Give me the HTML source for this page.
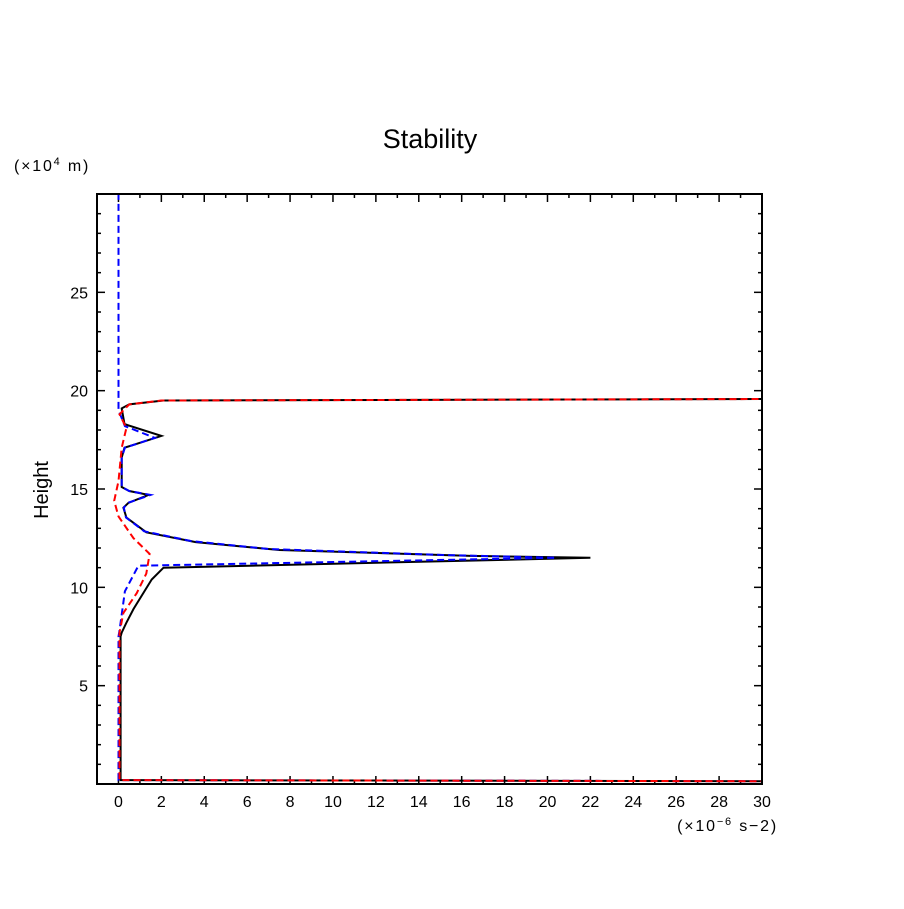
<!DOCTYPE html>
<html><head><meta charset="utf-8"><style>
body{margin:0;background:#fff;}
svg text{font-family:"Liberation Sans","DejaVu Sans",sans-serif;fill:#000;}
</style></head><body>
<svg id="chart" width="904" height="904" xmlns="http://www.w3.org/2000/svg">
<rect width="904" height="904" fill="#fff"/>
<defs><clipPath id="pc"><rect x="97" y="194" width="665" height="590"/></clipPath></defs>
<text x="430" y="148" font-size="27" text-anchor="middle">Stability</text>
<text x="14" y="171" font-size="16" letter-spacing="1.8">(×10<tspan font-size="11" dy="-6">4</tspan><tspan dy="6"> m)</tspan></text>
<text transform="translate(48,490) rotate(-90)" font-size="20" text-anchor="middle">Height</text>
<text x="778" y="831" font-size="16" letter-spacing="1.8" text-anchor="end">(×10<tspan font-size="11" dy="-6">−6</tspan><tspan dy="6"> s−2)</tspan></text>
<g id="axes"></g>
<g id="series" clip-path="url(#pc)"></g>
<rect x="97" y="194" width="665" height="590" fill="none" stroke="#000" stroke-width="2"/>
</svg>
<script>
const xTicks=[0,2,4,6,8,10,12,14,16,18,20,22,24,26,28,30];
const yTicks=[5,10,15,20,25];
const blackX=[40,0.1,0.1,0.15,0.37,0.7,1.55,2.1,22,16.4,7.5,3.6,1.3,0.37,0.23,0.47,1.4,0.5,0.15,0.15,0.28,2.0,0.28,0.15,0.5,2.1,40];
const blackY=[0.12,0.2,7.5,7.7,8.2,8.9,10.4,11.0,11.5,11.6,11.9,12.3,12.8,13.55,14.05,14.3,14.7,14.9,15.1,16.6,17.1,17.7,18.3,19.1,19.3,19.5,19.6];
const blueX=[40,0.0,0.0,0.05,0.3,0.93,20.4,15,7,3.4,1.2,0.35,0.25,0.45,1.5,0.5,0.15,0.15,0.3,1.7,0.3,0.0,0.0];
const blueY=[0.12,0.2,7.5,7.8,9.8,11.1,11.5,11.65,11.95,12.35,12.85,13.55,14.05,14.3,14.7,14.9,15.1,16.6,17.1,17.6,18.2,19.0,30];
const redX=[40,0.05,0.05,0.23,0.85,1.3,1.45,0.7,0.0,-0.2,0.0,0.15,0.37,0.05,0.5,2.0,40];
const redY=[0.12,0.2,7.7,8.7,9.7,10.7,11.7,12.5,13.6,14.4,15.4,17.1,18.1,18.8,19.3,19.5,19.6];
const X0=97,X1=762,Y0=784,Y1=194,XMIN=-1,XMAX=30,YMIN=0,YMAX=30;
const sx=v=>X0+(v-XMIN)/(XMAX-XMIN)*(X1-X0);
const sy=v=>Y0-(v-YMIN)/(YMAX-YMIN)*(Y0-Y1);
const NS="http://www.w3.org/2000/svg";
const axes=document.getElementById('axes'),ser=document.getElementById('series');
function ln(x1,y1,x2,y2,w){const l=document.createElementNS(NS,'line');l.setAttribute('x1',x1);l.setAttribute('y1',y1);l.setAttribute('x2',x2);l.setAttribute('y2',y2);l.setAttribute('stroke','#000');l.setAttribute('stroke-width',w);axes.appendChild(l);return l;}
for(let v=0;v<=30;v++){const x=sx(v);const L=(v%2===0)?8:4;
 const a=ln(x,Y0,x,Y0-L,1.5);


 const b=ln(x,Y1,x,Y1+L,1.5);

}
for(let v=1;v<30;v++){const y=sy(v);const L=(v%5===0)?8:4;
 const a=ln(X0,y,X0+L,y,1.5);


 const b=ln(X1,y,X1-L,y,1.5);

}
xTicks.forEach(v=>{const t=document.createElementNS(NS,'text');t.setAttribute('x',sx(v));t.setAttribute('y',807);t.setAttribute('font-size','16');t.setAttribute('text-anchor','middle');t.textContent=v;


axes.appendChild(t);});
yTicks.forEach(v=>{const t=document.createElementNS(NS,'text');t.setAttribute('x',88);t.setAttribute('y',sy(v)+6);t.setAttribute('font-size','16');t.setAttribute('text-anchor','end');t.textContent=v;


axes.appendChild(t);});
function line(xs,ys,color,dash,name){const p=document.createElementNS(NS,'polyline');
 p.setAttribute('points',xs.map((x,i)=>sx(x).toFixed(1)+','+sy(ys[i]).toFixed(1)).join(' '));
 p.setAttribute('fill','none');p.setAttribute('stroke',color);p.setAttribute('stroke-width','2');
 if(dash)p.setAttribute('stroke-dasharray',dash);
 
 
 ser.appendChild(p);}
line(blackX,blackY,'#000',null,'series-black-solid');
line(blueX,blueY,'#0000ff','7,4','series-blue-dashed');
line(redX,redY,'#ff0000','7,4','series-red-dashed');
</script>
</body></html>
